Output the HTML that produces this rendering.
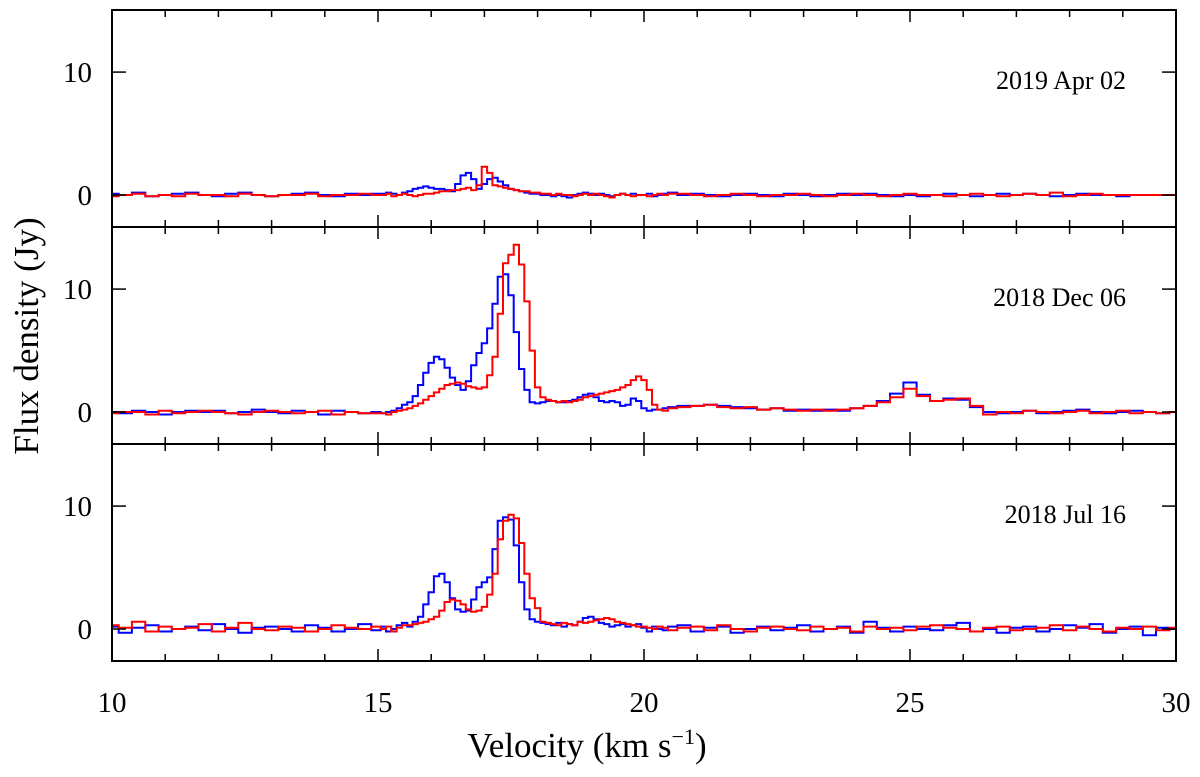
<!DOCTYPE html>
<html><head><meta charset="utf-8"><style>
html,body{margin:0;padding:0;background:#fff;}
svg{display:block;font-family:"Liberation Serif",serif;}
</style></head><body>
<svg id="chart" width="1200" height="777" viewBox="0 0 1200 777"></svg>
<script>
// Velocity channels (km/s)
const velA = [10,10.25,10.5,10.75,11,11.25,11.5,11.75,12,12.25,12.5,12.75,13,13.25,13.5,13.75,14,14.25,14.5,14.75,15];
const velB = [15.1,15.2,15.3,15.4,15.5,15.6,15.7,15.8,15.9,16,16.1,16.2,16.3,16.4,16.5,16.6,16.7,16.8,16.9,17,17.1,17.2,17.3,17.4,17.5,17.6,17.7,17.8,17.9,18,18.1,18.2,18.3,18.4,18.5,18.6,18.7,18.8,18.9,19,19.1,19.2,19.3,19.4,19.5,19.6,19.7,19.8,19.9,20,20.1,20.2,20.3,20.4,20.5];
const velC = [20.75,21,21.25,21.5,21.75,22,22.25,22.5,22.75,23,23.25,23.5,23.75,24,24.25,24.5,24.75,25,25.25,25.5,25.75,26,26.25,26.5,26.75,27,27.25,27.5,27.75,28,28.25,28.5,28.75,29,29.25,29.5,29.75,30];
const xTicks = [10,15,20,25,30];
const yTicks = [0,10];
const panelLabels = ["2019 Apr 02","2018 Dec 06","2018 Jul 16"];

const aprBlue = [0.1,0,0.2,-0.1,0,0.1,0.2,0,-0.1,0.1,0.2,0,-0.1,0,0.1,0.2,0,-0.1,0.1,0,0.1,
 0.1,0.2,0.1,0,0.2, 0.3,0.5,0.6,0.7, 0.6,0.5,0.5,0.4,0.3, 0.9,1.6,1.8,1.3,0.5, 0.9,1.3,1.4,1.1,0.8, 0.5,0.4,0.3,0.2,0.1, 0.1,0,0,-0.1,0,-0.1,-0.2,0,0.1,0.2, 0.1,0,0.1,0,-0.1,0,0.1,0,0.1,0, 0,0.1,-0.1,0,0.1,0.2,
 0,0.1,0,-0.1,0,0.1,0,-0.1,0.1,0,-0.1,0,0.1,0,0.1,0,-0.1,0,-0.1,0,0.1,0,-0.1,0,0.1,0,0.1,0,-0.1,0,0.1,0,0,-0.1,0,0,0,0];
const aprRed = [-0.1,0,0.1,-0.1,0,-0.1,0.1,0,0,-0.1,0.1,0,-0.1,0,0,0.1,-0.1,0,0,0.1,0,
 0,0.1,-0.1,0,0.1, 0,-0.1,0,0.1, 0.1,0.2,0.3,0.3,0.4, 0.4,0.5,0.6,0.4,0.8, 2.3,1.8,0.8,0.7,0.6, 0.5,0.4,0.3,0.3,0.2, 0.2,0.1,0.1,0,0.1,0,0,-0.1,0,0.1, 0,0.1,0,-0.1,-0.2,0,0.1,0,-0.1,0, 0,-0.1,0,0.1,0,0.1,
 0.1,0,-0.1,0,0.1,0,-0.1,0,0,0.1,0,-0.1,0,0.1,0,-0.1,0,0.1,0,0,-0.1,0,0.1,0,-0.1,0,0.1,0,0.2,-0.1,0,0.1,0,0,0,0,0,0];
const decBlue = [0,-0.1,0.1,0,-0.2,0,0.1,0,0.1,-0.1,0,0.2,0,-0.1,0.1,0,-0.2,0.1,0,-0.1,0,
 -0.1,0,0.1,0.3,0.6, 0.8,1.3,2.2,3.2, 4.0,4.5,4.3,3.6,2.8, 2.2,1.8,2.5,3.8,4.8, 5.6,6.8,8.8,11.0,11.2, 9.5,6.5,3.5,1.8,0.8, 0.7,0.8,0.9,0.9,0.8,0.8,0.9,1.0,1.2,1.4, 1.5,1.2,0.9,0.8,0.9,0.8,0.5,0.6,1.1,0.9, 0.3,0.1,0.2,0.2,0.3,0.4,
 0.5,0.5,0.6,0.5,0.4,0.3,0.2,0.3,0.1,0.2,0.1, 0.2,0.1,0.3, 0.5,0.9,1.5,2.4,1.4,0.9,1.1,1.0,0.4, 0,-0.1,0,0.1,-0.1,0,0.1,0.2,0,-0.1,0,0.1,0,-0.1,0];
const decRed = [-0.1,0,0,-0.2,0.1,-0.1,0,0.1,0,-0.1,-0.2,0,0.1,0,-0.1,0,0.1,-0.2,0,-0.1,-0.1,
 -0.1,-0.2,0,0.1,0.2, 0.3,0.5,0.7,1.0, 1.3,1.6,1.9,2.2,2.3, 2.4,2.3,2.1,2.0,1.9, 2.0,3.0,4.5,8.0,12.1, 12.8,13.6,12.0,9.0,5.0, 2.0,1.2,1.0,0.9,0.8,0.9,0.8,0.9,1.0,1.2, 1.3,1.4,1.5,1.6,1.7,1.8,2.0,2.2,2.6,2.9, 2.6,1.8,0.6,0.2,0.1,0.3,
 0.4,0.5,0.6,0.4,0.3,0.4,0.2,0.3,0.2,0.1,0.2, 0.1,0.2,0.3, 0.5,0.8,1.2,1.9,1.3,0.9,1.0,1.1,0.5, -0.2,0,-0.1,0.1,0,-0.1,0,0.1,-0.1,0,0.1,-0.1,0,-0.1,0];
const julBlue = [0.2,-0.3,0.1,0.3,-0.2,0,0.2,-0.1,0.4,0,-0.3,0.1,0.2,0,-0.2,0.3,0.1,-0.2,0,0.4,-0.1,
 0.2,-0.2,0,0.3,0.5, 0.2,0.6,1.0,2.0, 3.0,4.3,4.5,3.8,2.5, 1.6,1.4,1.5,2.4,3.4, 3.8,4.2,6.5,8.8,9.1, 8.9,6.8,3.8,1.6,0.8, 0.6,0.5,0.4,0.3,0.5,0.2,0.4,0.3,0.6,0.9, 1.0,0.8,0.5,0.4,0.2,0.3,0.4,0.2,0.3,0.4, 0.1,-0.2,0.2,0,-0.1,0.2,
 0.3,-0.2,0.1,0.2,-0.3,0,0.2,-0.1,0.1,0.3,-0.2,0,0.2,-0.3,0.6,0.1,-0.2,0.2,0,-0.1,0.3,0.5,-0.2,0,-0.3,0.1,0.2,-0.2,0,0.3,0.1,0.4,-0.3,0,0.2,-0.5,0.1,0];
const julRed = [0.3,0.1,0.6,-0.2,0.2,0,0.1,0.4,-0.2,0.1,0.5,0,-0.1,0.2,0.1,-0.2,0,0.3,0.1,0,0.2,
 0,0.2,-0.2,0.1,0.3, 0.3,0.4,0.5,0.6, 0.8,1.0,1.5,2.2,2.4, 2.3,2.0,1.6,1.4,1.5, 1.8,2.8,4.5,7.3,8.8, 9.3,9.0,7.0,4.5,2.5, 1.7,0.6,0.5,0.4,0.3,0.5,0.4,0.3,0.6,0.5, 0.6,0.7,0.8,0.9,0.8,0.6,0.5,0.4,0.3,0.2, 0.2,0.1,0,0.2,0.1,-0.1,
 0.1,0.2,-0.1,0.3,0,-0.2,0.1,0.2,0,-0.1,0.2,0,0.1,-0.2,0.2,0,0.1,-0.1,0.2,0.3,0.1,0,-0.2,0.1,0.2,-0.1,0,0.1,0.3,-0.1,0.2,0,-0.2,0.1,0,0.2,-0.1,0.1];

const vel = velA.concat(velB, velC);
const panels = [
  {label: panelLabels[0], blue: aprBlue, red: aprRed, name: 'apr'},
  {label: panelLabels[1], blue: decBlue, red: decRed, name: 'dec'},
  {label: panelLabels[2], blue: julBlue, red: julRed, name: 'jul'}
];

const svg = document.getElementById('chart');
const NS = 'http://www.w3.org/2000/svg';
const L = 112, R = 1176, T = 10, PH = 217;
const yMin = -2.6, yMax = 15.05;
const xs = v => L + (v - 10) / 20 * (R - L);
const ysFn = i => f => T + i * PH + (yMax - f) / (yMax - yMin) * PH;
function mk(tag, attrs) { const e = document.createElementNS(NS, tag); for (const k in attrs) e.setAttribute(k, attrs[k]); svg.appendChild(e); return e; }

panels.forEach((p, i) => {
  const ys = ysFn(i);
  const top = T + i * PH, bot = top + PH;
  [['blue', '#0000ff'], ['red', '#ff0000']].forEach(([key, col]) => {
    const vals = p[key];
    const n = Math.min(vals.length, vel.length);
    let d = '';
    for (let k = 0; k < n; k++) {
      const x0 = k === 0 ? xs(vel[0]) : xs((vel[k - 1] + vel[k]) / 2);
      const x1 = k === n - 1 ? xs(vel[n - 1]) : xs((vel[k] + vel[k + 1]) / 2);
      const y = ys(vals[k]).toFixed(1);
      d += (k === 0 ? 'M' : 'L') + x0.toFixed(1) + ',' + y + 'L' + x1.toFixed(1) + ',' + y;
    }
    const path = mk('path', {d: d, fill: 'none', stroke: col, 'stroke-width': 2});
    
    
  });
  for (let v = 10; v <= 30; v++) {
    const len = v % 5 === 0 ? 12 : 7;
    const x = xs(v);
    const t1 = mk('line', {x1: x, x2: x, y1: top, y2: top + len, stroke: '#000', 'stroke-width': 1.5});
    
    
    const t2 = mk('line', {x1: x, x2: x, y1: bot, y2: bot - len, stroke: '#000', 'stroke-width': 1.5});
    
    
  }
  yTicks.forEach(t => {
    const y = ys(t);
    const a = mk('line', {x1: L, x2: L + 14, y1: y, y2: y, stroke: '#000', 'stroke-width': 1.5});
    
    
    const b = mk('line', {x1: R, x2: R - 14, y1: y, y2: y, stroke: '#000', 'stroke-width': 1.5});
    
    
    const tx = mk('text', {x: 92, y: y + 10, 'text-anchor': 'end', 'font-size': 29});
    tx.textContent = t;
    
    
  });
  const lab = mk('text', {x: 1126, y: top + 79, 'text-anchor': 'end', 'font-size': 26});
  lab.textContent = p.label;
  
  
  const box = mk('rect', {x: L, y: top, width: R - L, height: PH, fill: 'none', stroke: '#000', 'stroke-width': 2});
  
  
});

xTicks.forEach(v => {
  const t = mk('text', {x: xs(v), y: 712, 'text-anchor': 'middle', 'font-size': 29});
  t.textContent = v;
  
  
});
const xt = mk('text', {x: 587, y: 757, 'text-anchor': 'middle', 'font-size': 35});
xt.innerHTML = 'Velocity (km s<tspan dy="-13" font-size="22">−1</tspan><tspan dy="13">)</tspan>';


const yt = mk('text', {x: 0, y: 0, 'text-anchor': 'middle', 'font-size': 35, transform: 'translate(38,336) rotate(-90)'});
yt.textContent = 'Flux density (Jy)';


</script>
</body></html>
